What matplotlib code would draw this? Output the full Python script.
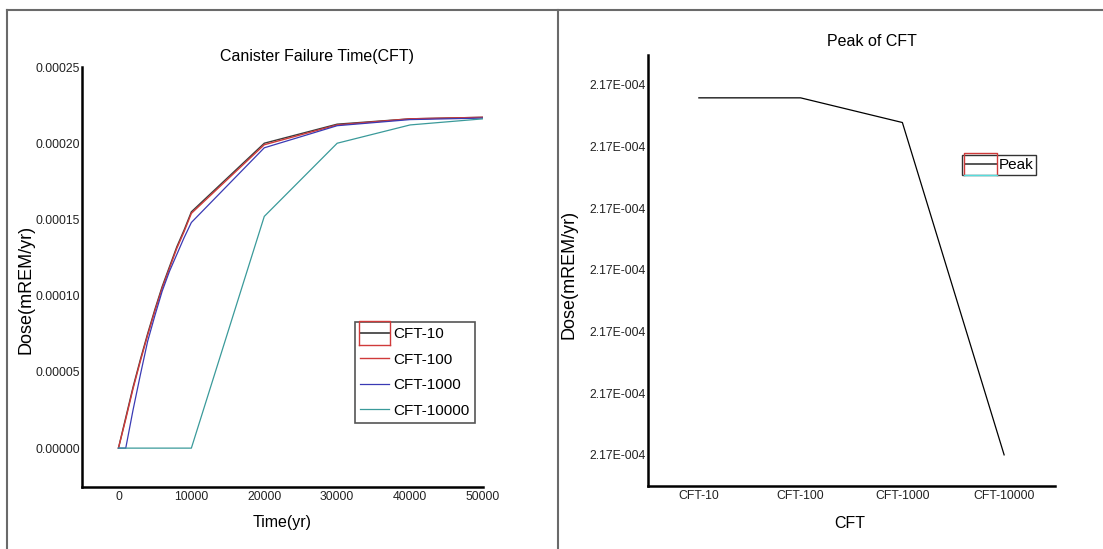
import matplotlib
matplotlib.use("Agg")
from matplotlib import pyplot as plt
from matplotlib.lines import Line2D
import numpy as np

# ---- data ----
time_10 = [0, 1000, 2000, 3000, 4000, 5000, 6000, 7000, 8000, 9000, 10000, 20000, 30000, 40000, 50000]
dose_10 = [0.0, 0.0000200, 0.0000400, 0.0000580, 0.0000750, 0.0000910, 0.0001060, 0.0001190,
           0.0001320, 0.0001430, 0.0001550, 0.0002000, 0.0002125, 0.0002160, 0.0002170]
dose_100 = [0.0, 0.0000190, 0.0000390, 0.0000570, 0.0000740, 0.0000900, 0.0001050, 0.0001180,
            0.0001310, 0.0001420, 0.0001540, 0.0001990, 0.0002120, 0.0002160, 0.0002170]
time_1000 = [0, 1000, 2000, 3000, 4000, 5000, 6000, 7000, 8000, 9000, 10000, 20000, 30000, 40000, 50000]
dose_1000 = [0.0, 0.0, 0.0000250, 0.0000480, 0.0000700, 0.0000870, 0.0001030, 0.0001160,
             0.0001270, 0.0001380, 0.0001480, 0.0001970, 0.0002115, 0.0002155, 0.0002165]
time_10000 = [0, 10000, 20000, 30000, 40000, 50000]
dose_10000 = [0.0, 0.0, 0.0001520, 0.0002000, 0.0002120, 0.0002160]

series_labels = ["CFT-10", "CFT-100", "CFT-1000", "CFT-10000"]
series_colors = ["#3c3c3c", "#d03a3a", "#3a3ab4", "#3a9a9a"]

peak_cats = ["CFT-10", "CFT-100", "CFT-1000", "CFT-10000"]
peak_vals = [2.170158e-4, 2.170158e-4, 2.170078e-4, 2.169000e-4]

FONT = ["Liberation Sans", "DejaVu Sans"]


def sci_fmt(v, pos):
    m, e = f"{v:.2E}".split("E")
    e = int(e)
    return f"{m}E{'-' if e < 0 else '+'}{abs(e):03d}"


W, H = 1103, 549
fig = plt.figure(figsize=(W / 100, H / 100), dpi=100)

# outer frame lines
fc = "#6a6a6a"
fig.add_artist(Line2D([7 / W, 1], [1 - 10 / H] * 2, color=fc, lw=1.5, transform=fig.transFigure))
fig.add_artist(Line2D([7 / W] * 2, [0, 1 - 10 / H], color=fc, lw=1.5, transform=fig.transFigure))
fig.add_artist(Line2D([558 / W] * 2, [0, 1 - 10 / H], color=fc, lw=1.5, transform=fig.transFigure))

# ---- left panel ----
ax1 = fig.add_axes([82 / W, 1 - 487 / H, (483 - 82) / W, (487 - 67) / H])
ax1.plot(time_10, dose_10, color=series_colors[0], lw=1.0, label=series_labels[0])
ax1.plot(time_10, dose_100, color=series_colors[1], lw=1.0, label=series_labels[1])
ax1.plot(time_1000, dose_1000, color=series_colors[2], lw=0.9, label=series_labels[2])
ax1.plot(time_10000, dose_10000, color=series_colors[3], lw=0.9, label=series_labels[3])
ax1.set_xlim(-5000, 50000)
ax1.set_ylim(-0.0000255, 0.00025)
ax1.set_xticks([0, 10000, 20000, 30000, 40000, 50000])
ax1.set_yticks([0.0, 0.00005, 0.0001, 0.00015, 0.0002, 0.00025])
ax1.yaxis.set_major_formatter(matplotlib.ticker.FormatStrFormatter("%.5f"))
ax1.xaxis.set_major_formatter(matplotlib.ticker.FormatStrFormatter("%d"))

# ---- right panel ----
ax2 = fig.add_axes([648 / W, 1 - 486 / H, (1055 - 648) / W, (486 - 55) / H])
xs = np.arange(len(peak_cats))
ax2.plot(xs, peak_vals, color="black", lw=0.9, label="Peak")
ax2.set_xlim(-0.5, 3.5)
ax2.set_ylim(2.168899e-4, 2.170297e-4)
ax2.set_xticks(xs)
ax2.set_xticklabels(peak_cats)
ax2.set_yticks([2.1690e-4, 2.1692e-4, 2.1694e-4, 2.1696e-4, 2.1698e-4, 2.1700e-4, 2.1702e-4])
ax2.yaxis.set_major_formatter(matplotlib.ticker.FuncFormatter(sci_fmt))

for ax in (ax1, ax2):
    for s in ("top", "right"):
        ax.spines[s].set_visible(False)
    for s in ("left", "bottom"):
        ax.spines[s].set_linewidth(1.8)
    ax.tick_params(length=0, pad=1.5, labelsize=8.8)
    ax.tick_params(axis="x", pad=3)
    for lab in ax.get_xticklabels() + ax.get_yticklabels():
        lab.set_family(FONT)
        lab.set_color("#222222")

# titles and axis labels
fig.text(317 / W, 1 - 57 / H, "Canister Failure Time(CFT)", ha="center", va="center", fontsize=11.5, family=FONT)
fig.text(872 / W, 1 - 42 / H, "Peak of CFT", ha="center", va="center", fontsize=11.5, family=FONT)
fig.text(282 / W, 1 - 523 / H, "Time(yr)", ha="center", va="center", fontsize=11.5, family=FONT)
fig.text(850 / W, 1 - 523 / H, "CFT", ha="center", va="center", fontsize=11.5, family=FONT)
fig.text(26 / W, 1 - 289 / H, "Dose(mREM/yr)", ha="center", va="center", rotation=90, fontsize=13, family=FONT)
fig.text(569 / W, 1 - 274 / H, "Dose(mREM/yr)", ha="center", va="center", rotation=90, fontsize=13, family=FONT)

# legends
leg1 = ax1.legend(loc="upper left", bbox_to_anchor=(355 / W, 1 - 322 / H), bbox_transform=fig.transFigure,
                  borderaxespad=0, fancybox=False, edgecolor="#555555", framealpha=1,
                  prop={"family": FONT, "size": 11}, handlelength=1.9, handletextpad=0.25,
                  labelspacing=0.75, borderpad=0.35)
leg1.get_frame().set_linewidth(1.2)

leg2 = ax2.legend(loc="upper left", bbox_to_anchor=(962 / W, 1 - 155 / H), bbox_transform=fig.transFigure,
                  borderaxespad=0, fancybox=False, edgecolor="#333333", framealpha=1,
                  prop={"family": FONT, "size": 11}, handlelength=2.0, handletextpad=0.2,
                  borderpad=0.2)
leg2.get_frame().set_linewidth(1.0)
for h in leg1.legend_handles[:1] + leg2.legend_handles:
    h.set_color("#555555")
    h.set_linewidth(1.4)

# selection boxes around the first legend handles
fig.canvas.draw()
rend = fig.canvas.get_renderer()
for h, hh, bottom_col in ((leg1.legend_handles[0], 12, "#d03a3a"), (leg2.legend_handles[0], 11, "#55dddd")):
    bb = h.get_window_extent(rend)
    yc = (bb.y0 + bb.y1) / 2
    x0, x1 = bb.x0 - 1, bb.x1 + 1
    fig.add_artist(Line2D([x0, x0, x1, x1], [yc - hh, yc + hh, yc + hh, yc - hh],
                          color="#d03a3a", lw=1.0, transform=None))
    fig.add_artist(Line2D([x0, x1], [yc - hh, yc - hh], color=bottom_col, lw=1.0, transform=None))

fig.savefig("out.png", dpi=100)
